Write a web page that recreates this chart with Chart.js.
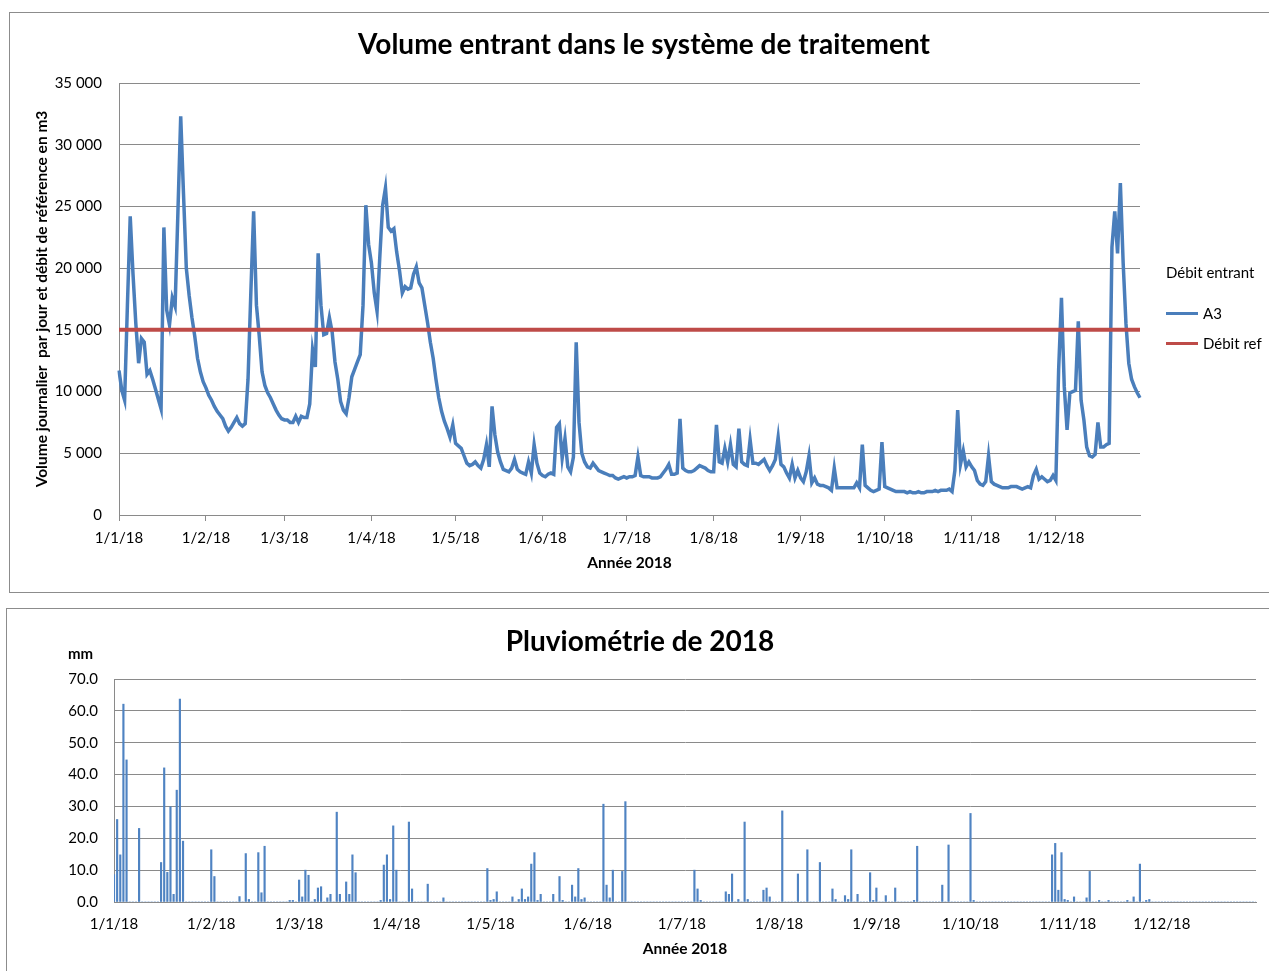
<!DOCTYPE html>
<html>
<head>
<meta charset="utf-8">
<script src="https://cdn.jsdelivr.net/npm/chart.js@4.4.1/dist/chart.umd.min.js"></script>
<style>
  body { margin: 0; background: #fff; overflow: hidden; font-family: Lato, sans-serif; }
  .frame { position: absolute; border: 1px solid #8c8c8c; box-sizing: border-box; }
  canvas { position: absolute; }
  .lg { position: absolute; font-size: 15px; color: #000; line-height: 18px; white-space: nowrap; }
  .sw { position: absolute; width: 32px; height: 3px; }
</style>
</head>
<body>
<div class="frame" style="left:9px;top:12px;width:1275px;height:581px;"></div>
<div class="frame" style="left:6px;top:608px;width:1275px;height:380px;"></div>
<canvas id="chart" width="1270" height="580" style="left:9px;top:12px;"></canvas>
<canvas id="rain" width="1268" height="363" style="left:6px;top:608px;"></canvas>

<div class="lg" style="left:1166px;top:263px;">Débit entrant</div>
<div class="sw" style="left:1166px;top:312px;background:#4a7ebb;"></div>
<div class="lg" style="left:1203px;top:304px;">A3</div>
<div class="sw" style="left:1166px;top:342px;background:#be4b48;"></div>
<div class="lg" style="left:1203px;top:334px;">Débit ref</div>
<div class="lg" style="left:68px;top:644px;font-size:15px;font-weight:bold;">mm</div>

<script>
// daily inflow A3 (m3), one array per month
const a3Jan = [11700, 10100, 9300, 17000, 24200, 19500, 15500, 12300, 14300, 14000, 11400, 11700, 11000, 10200, 9400, 8600,
  23300, 16600, 15400, 17600, 16900, 24500, 32300, 26000, 20000, 17800, 16000, 14500, 12700, 11600, 10800];
const a3Feb = [10300, 9700, 9300, 8800, 8400, 8100, 7800, 7200, 6800, 7100, 7500, 7900, 7400, 7200, 7400, 11000,
  18000, 24600, 17000, 14500, 11600, 10500, 9900, 9500, 9000, 8500, 8100, 7800];
const a3Mar = [7700, 7700, 7500, 7500, 8000, 7500, 8000, 7900, 7900, 9000, 13400, 12000, 21200, 17000, 14600, 14700,
  16000, 14800, 12400, 11000, 9200, 8500, 8200, 9500, 11200, 11800, 12400, 13000, 17000, 25100, 21900];
const a3Apr = [20400, 18000, 16500, 21000, 25100, 26500, 23300, 23000, 23200, 21300, 19800, 18000, 18500, 18300, 18400,
  19500, 20100, 18800, 18400, 17000, 15600, 14000, 12700, 11000, 9500, 8400, 7600, 7000, 6300, 7300];
const a3May = [5800, 5600, 5400, 4800, 4200, 4000, 4100, 4300, 4000, 3800, 4500, 5700, 3900, 8800, 6500, 5100,
  4300, 3700, 3600, 3500, 3800, 4500, 3700, 3500, 3400, 3300, 4300, 3400, 5700, 4200, 3400];
const a3Jun = [3200, 3100, 3300, 3400, 3300, 7100, 7400, 4600, 6200, 3900, 3500, 4700, 14000, 7500, 5000,
  4300, 3900, 3800, 4200, 3900, 3600, 3500, 3400, 3300, 3200, 3200, 3000, 2900, 3000, 3100];
const a3Jul = [3000, 3100, 3100, 3200, 4700, 3200, 3100, 3100, 3100, 3000, 3000, 3000, 3100, 3400, 3700, 4100,
  3300, 3300, 3400, 7800, 3800, 3600, 3500, 3500, 3600, 3800, 4000, 3900, 3800, 3600, 3500];
const a3Aug = [3500, 7300, 4300, 4200, 5400, 4300, 5700, 4100, 3900, 7000, 4300, 4100, 4000, 6100, 4200, 4200,
  4100, 4300, 4500, 4000, 3600, 4000, 4500, 6300, 4100, 3900, 3400, 3000, 4100, 3000, 3600];
const a3Sep = [3000, 2700, 3500, 4800, 2600, 3000, 2500, 2400, 2400, 2300, 2200, 2000, 3800, 2200, 2200,
  2200, 2200, 2200, 2200, 2200, 2600, 2200, 5700, 2400, 2200, 2000, 1900, 2000, 2100, 5900];
const a3Oct = [2300, 2200, 2100, 2000, 1900, 1900, 1900, 1900, 1800, 1900, 1800, 1800, 1900, 1800, 1800, 1900,
  1900, 1900, 2000, 1900, 2000, 2000, 2000, 2100, 1900, 3600, 8500, 4100, 5200, 3900, 4300];
const a3Nov = [3900, 3600, 2800, 2500, 2400, 2700, 4800, 2700, 2500, 2400, 2300, 2200, 2200, 2200, 2300,
  2300, 2300, 2200, 2100, 2200, 2300, 2200, 3200, 3700, 2900, 3100, 2900, 2700, 2800, 3200];
const a3Dec = [2800, 11800, 17600, 10400, 6900, 9900, 10000, 10100, 15700, 9300, 7700, 5500, 4800, 4700, 4900, 7500,
  5500, 5500, 5700, 5800, 21700, 24600, 21200, 26900, 20400, 15500, 12300, 11000, 10400, 9900, 9500];
const debitRef = 15000;

// rainfall (mm): day of year and amount
const rainDays = [0, 1, 2, 3, 4, 8, 15, 16, 17, 18, 19, 20, 21, 22, 31, 32, 40, 42, 43, 46, 47, 48, 56, 57,
  59, 60, 61, 62, 64, 65, 66, 68, 69, 71, 72, 74, 75, 76, 77, 85, 86, 87, 88, 89, 90, 94, 95, 100, 105,
  119, 120, 121, 122, 127, 129, 130, 131, 132, 133, 134, 135, 136, 140, 142, 143, 146, 147, 148, 149, 150,
  156, 157, 158, 159, 162, 163, 185, 186, 187, 195, 196, 197, 199, 201, 202, 207, 208, 209, 213, 218, 221,
  225, 229, 230, 233, 234, 235, 237, 241, 242, 243, 246, 249, 255, 256, 264, 266, 273, 274,
  299, 300, 301, 302, 303, 304, 306, 310, 311, 314, 317, 323, 325, 327, 329, 330];
const rainMm = [8.6, 25.9, 14.8, 62.1, 44.6, 23.1, 12.4, 42.1, 9.3, 29.9, 2.4, 35.1, 63.7, 19.1, 16.4, 8.0, 1.7, 15.2, 0.8, 15.5, 2.9, 17.5, 0.5, 0.5,
  6.9, 1.6, 10.0, 8.4, 0.8, 4.4, 4.8, 1.3, 2.4, 28.2, 2.4, 6.3, 2.4, 14.8, 9.2, 0.5, 11.6, 14.8, 0.8, 23.9, 10.0, 25.1, 4.1, 5.6, 1.3,
  10.5, 0.5, 0.8, 3.2, 1.6, 0.8, 4.1, 0.8, 1.6, 11.9, 15.5, 0.5, 2.4, 2.4, 8.0, 0.5, 5.3, 1.6, 10.5, 0.8, 1.3,
  30.7, 5.3, 1.3, 10.0, 9.6, 31.5, 10.0, 4.1, 0.5, 3.2, 2.4, 8.8, 0.8, 25.1, 0.8, 3.7, 4.4, 1.6, 28.6, 8.8, 16.4,
  12.4, 4.1, 0.8, 2.0, 0.8, 16.4, 2.4, 9.2, 0.5, 4.4, 2.0, 4.4, 0.5, 17.5, 5.3, 17.9, 27.8, 0.5,
  14.8, 18.4, 3.7, 15.5, 0.8, 0.5, 1.6, 1.3, 9.6, 0.5, 0.5, 0.5, 1.6, 11.9, 0.5, 0.8];

// labels d/m/18 for every day of 2018
const days = [];
for (let d = new Date(2018, 0, 1); d.getFullYear() === 2018; d.setDate(d.getDate() + 1)) {
  days.push(d.getDate() + '/' + (d.getMonth() + 1) + '/18');
}
const isMonthStart = i => days[i] && days[i].startsWith('1/');

const a3 = [].concat(a3Jan, a3Feb, a3Mar, a3Apr, a3May, a3Jun, a3Jul, a3Aug, a3Sep, a3Oct, a3Nov, a3Dec);
const refLine = days.map(() => debitRef);
const rain = days.map(() => 0);
rainDays.forEach((d, i) => { rain[d] = rainMm[i]; });

const FONT = 'Lato';
const GRID = '#8a8a8a';
Chart.defaults.font.family = FONT;
Chart.defaults.color = '#000';

const monthTick = function (val, i) {
  const l = this.getLabelForValue(val);
  return isMonthStart(i) ? l : '';
};

new Chart(document.getElementById('chart'), {
  type: 'line',
  data: {
    labels: days,
    datasets: [
      { label: 'A3', data: a3, borderColor: '#4a7ebb', borderWidth: 3.5, pointRadius: 0, tension: 0, order: 1 },
      { label: 'Débit ref', data: refLine, borderColor: '#be4b48', borderWidth: 4, pointRadius: 0, order: 0 }
    ]
  },
  options: {
    responsive: false,
    animation: false,
    plugins: {
      legend: { display: false },
      tooltip: { enabled: false },
      title: {
        display: true,
        text: 'Volume entrant dans le système de traitement',
        font: { size: 28, weight: 'bold' },
        color: '#000',
        padding: { top: 16, bottom: 21.4 }
      }
    },
    scales: {
      x: {
        ticks: { autoSkip: false, maxRotation: 0, padding: 8, font: { size: 15 }, callback: monthTick },
        grid: {
          drawOnChartArea: false, drawTicks: true, tickLength: 6,
          color: c => isMonthStart(c.index) ? GRID : 'rgba(0,0,0,0)'
        },
        border: { color: GRID },
        title: { display: true, text: 'Année 2018', font: { size: 15.5, weight: 'bold' }, padding: { top: 0, bottom: 19.7 } },
        afterFit: s => { s.height = 77; }
      },
      y: {
        min: 0, max: 35000,
        ticks: {
          stepSize: 5000, padding: 17, font: { size: 15 },
          callback: v => String(v).replace(/\B(?=(\d{3})+(?!\d))/g, ' ')
        },
        grid: { color: GRID, drawTicks: false },
        border: { color: GRID },
        title: {
          display: true,
          text: 'Volume journalier  par jour et débit de référence en m3',
          font: { size: 15.5, weight: 'bold' },
          padding: { top: 24, bottom: 0 }
        },
        afterFit: s => { s.width = 110; }
      },
      side: {
        type: 'linear', position: 'right', display: true,
        ticks: { display: false }, grid: { display: false }, border: { display: false },
        afterFit: s => { s.width = 139; }
      }
    }
  }
});

new Chart(document.getElementById('rain'), {
  type: 'bar',
  data: {
    labels: days,
    datasets: [{ label: 'mm', data: rain, backgroundColor: '#4f83c2', barThickness: 1.5 }]
  },
  options: {
    responsive: false,
    animation: false,
    plugins: {
      legend: { display: false },
      tooltip: { enabled: false },
      title: {
        display: true,
        text: 'Pluviométrie de 2018',
        font: { size: 28, weight: 'bold' },
        color: '#000',
        padding: { top: 17, bottom: 20.4 }
      }
    },
    scales: {
      x: {
        offset: false,
        ticks: { autoSkip: false, maxRotation: 0, padding: 13, font: { size: 15 }, callback: monthTick },
        grid: { display: false, drawTicks: false },
        border: { color: GRID },
        title: { display: true, text: 'Année 2018', font: { size: 15.5, weight: 'bold' }, padding: { top: 0, bottom: 12.7 } },
        afterFit: s => { s.height = 69; }
      },
      y: {
        min: 0, max: 70,
        ticks: { stepSize: 10, padding: 16, font: { size: 15 }, callback: v => v.toFixed(1) },
        grid: { color: GRID, drawTicks: false },
        border: { color: GRID },
        afterFit: s => { s.width = 108; }
      },
      side: {
        type: 'linear', position: 'right', display: true,
        ticks: { display: false }, grid: { display: false }, border: { display: false },
        afterFit: s => { s.width = 18; }
      }
    }
  }
});
</script>
</body>
</html>
